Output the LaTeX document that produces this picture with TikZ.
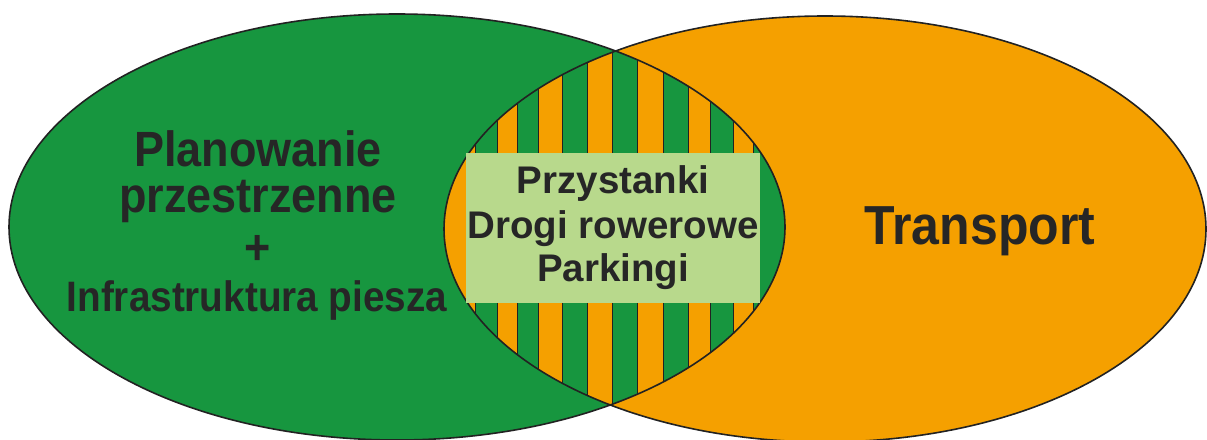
\documentclass[tikz,border=0pt]{standalone}
\usepackage{fontspec}
\setmainfont{Liberation Sans}
\definecolor{vgreen}{HTML}{17963F}
\definecolor{vorange}{HTML}{F5A000}
\definecolor{vbox}{HTML}{B8D98C}
\definecolor{vtext}{HTML}{262626}
\definecolor{vline}{HTML}{222222}
\newcommand{\tallt}[1]{\scalebox{1}[1.1]{#1}}
\begin{document}
\begin{tikzpicture}[x=1pt,y=-1pt,
  outline/.style={draw=vline,line width=1.6pt},
  stripe/.style={fill=vgreen,draw=vline,line width=0.7pt},
  lbl/.style={text=vtext,inner sep=0pt,anchor=base,font=\bfseries}]
\useasboundingbox (0,0) rectangle (1207,439);
\begin{scope}
\clip (0,0) rectangle (1207,439);
% left (green) and right (orange) sets
\fill[vgreen] (397,227) ellipse [x radius=388pt, y radius=213pt];
\fill[vorange] (825,229) ellipse [x radius=381pt, y radius=213pt];
% striped intersection
\begin{scope}
\clip (397,227) ellipse [x radius=388pt, y radius=213pt];
\clip (825,229) ellipse [x radius=381pt, y radius=213pt];
\fill[vorange] (430,0) rectangle (800,439);
\foreach \a/\b in {475/497,517/538,562/587,612/637,663/688,710/733,753/800}
  \path[stripe] (\a,0) rectangle (\b,439);
\end{scope}
\draw[outline] (397,227) ellipse [x radius=388pt, y radius=213pt];
\draw[outline] (825,229) ellipse [x radius=381pt, y radius=213pt];
\end{scope}
% central box
\node[fill=vbox,minimum width=294pt,minimum height=150pt,inner sep=0pt] (box) at (613,228) {};
\node[lbl,font=\bfseries\fontsize{38.5pt}{44pt}\selectfont] (b1) at (613,193) {Przystanki};
\node[lbl,font=\bfseries\fontsize{38.5pt}{44pt}\selectfont] (b2) at (613,238) {Drogi rowerowe};
\node[lbl,font=\bfseries\fontsize{38.5pt}{44pt}\selectfont] (b3) at (613,281) {Parkingi};
% left labels
\node[lbl,font=\bfseries\fontsize{45pt}{50pt}\selectfont] (l1) at (258,166) {\tallt{Planowanie}};
\node[lbl,font=\bfseries\fontsize{45pt}{50pt}\selectfont] (l2) at (258,212) {\tallt{przestrzenne}};
\node[lbl,font=\bfseries\fontsize{45pt}{50pt}\selectfont] (l3) at (258,264) {\tallt{+}};
\node[lbl,font=\bfseries\fontsize{38.7pt}{44pt}\selectfont] (l4) at (257,311) {\tallt{Infrastruktura piesza}};
% right label
\node[lbl,font=\bfseries\fontsize{50pt}{56pt}\selectfont] (r1) at (980,244) {\tallt{Transport}};
\end{tikzpicture}
\end{document}
